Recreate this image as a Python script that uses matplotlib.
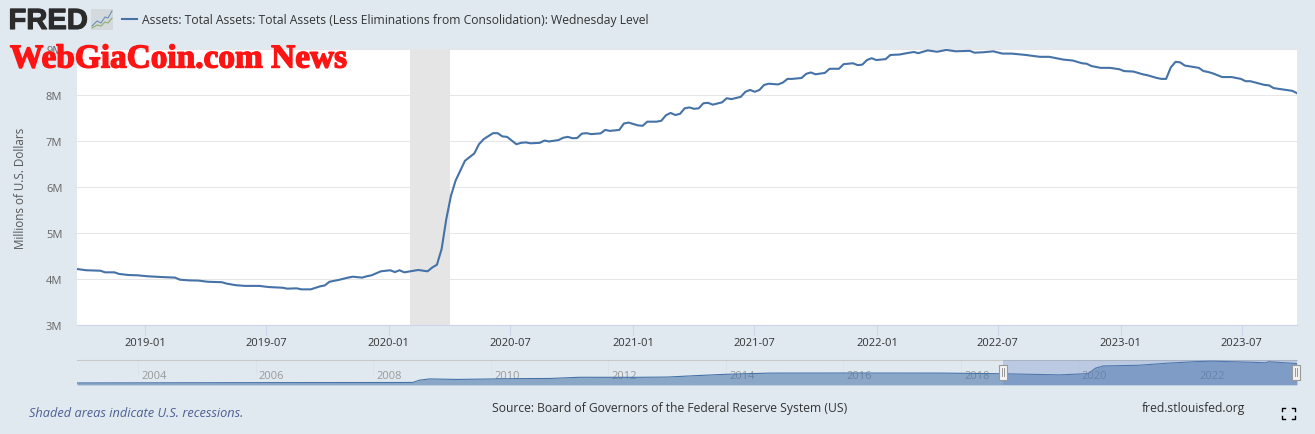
import matplotlib
matplotlib.use("Agg")
import matplotlib.pyplot as plt
import matplotlib.patheffects as pe
import pandas as pd
from matplotlib.patches import Rectangle

W, H = 1315, 435
BG = "#e1e9f0"
BLUE = "#4572a7"
FONT = "Open Sans"

# weekly readings, counted in weeks from the first one
start = pd.Timestamp("2018-09-21")
week_no = [0, 2, 5, 6, 8, 9, 11, 13, 15, 18, 21, 22, 24, 26, 28, 31, 32, 34, 36, 39,
           41, 44, 45, 47, 48, 50, 52, 53, 54, 56, 58, 59, 61, 62, 63, 65, 67, 68, 69, 70,
           73, 75, 76, 77, 78, 79, 80, 81, 83, 85, 86, 87, 89, 90, 91, 92, 94, 95, 96, 97,
           99, 100, 101, 103, 104, 105, 106, 107, 108, 109, 110, 112, 113, 114, 116, 117, 118, 120, 121, 122,
           124, 125, 126, 127, 128, 129, 130, 131, 132, 133, 134, 135, 136, 138, 139, 140, 142, 143, 144, 145,
           146, 147, 148, 150, 151, 152, 153, 155, 156, 157, 158, 160, 161, 163, 164, 166, 167, 168, 169, 170,
           171, 173, 174, 176, 177, 179, 180, 182, 184, 186, 188, 191, 192, 194, 196, 198, 200, 203, 206, 208,
           211, 213, 215, 216, 217, 219, 221, 223, 224, 226, 228, 229, 230, 231, 232, 233, 234, 235, 236, 237,
           240, 241, 242, 243, 244, 245, 247, 249, 250, 251, 254, 255, 256, 258, 260, 261]
assets = [4.217, 4.19, 4.18, 4.145, 4.145, 4.11, 4.087, 4.08, 4.06, 4.043, 4.03, 3.985, 3.97, 3.965, 3.94, 3.93, 3.90, 3.865, 3.85, 3.85,
          3.825, 3.81, 3.79, 3.797, 3.775, 3.775, 3.84, 3.86, 3.94, 3.98, 4.03, 4.05, 4.03, 4.06, 4.08, 4.167, 4.19, 4.15, 4.19, 4.145,
          4.196, 4.167, 4.25, 4.31, 4.65, 5.30, 5.81, 6.14, 6.57, 6.73, 6.93, 7.04, 7.17, 7.17, 7.10, 7.09, 6.93, 6.96, 6.97, 6.95,
          6.96, 7.01, 6.99, 7.02, 7.07, 7.09, 7.06, 7.065, 7.16, 7.17, 7.15, 7.165, 7.24, 7.22, 7.24, 7.38, 7.40, 7.34, 7.33, 7.42,
          7.42, 7.44, 7.56, 7.61, 7.565, 7.59, 7.71, 7.73, 7.70, 7.71, 7.82, 7.83, 7.79, 7.84, 7.93, 7.91, 7.96, 8.07, 8.11, 8.07,
          8.11, 8.22, 8.245, 8.23, 8.27, 8.35, 8.35, 8.37, 8.46, 8.49, 8.45, 8.48, 8.57, 8.57, 8.67, 8.69, 8.65, 8.66, 8.76, 8.80,
          8.76, 8.78, 8.87, 8.88, 8.90, 8.935, 8.91, 8.97, 8.94, 8.98, 8.95, 8.96, 8.92, 8.93, 8.95, 8.90, 8.90, 8.87, 8.83, 8.83,
          8.77, 8.75, 8.69, 8.68, 8.63, 8.59, 8.59, 8.56, 8.52, 8.51, 8.45, 8.43, 8.40, 8.37, 8.35, 8.35, 8.60, 8.72, 8.71, 8.64,
          8.59, 8.52, 8.50, 8.47, 8.43, 8.39, 8.39, 8.35, 8.30, 8.30, 8.22, 8.21, 8.15, 8.12, 8.09, 8.04]
x_ticks = ["2019-01", "2019-07", "2020-01", "2020-07", "2021-01", "2021-07", "2022-01", "2022-07", "2023-01", "2023-07"]
y_ticks = [3, 4, 5, 6, 7, 8, 9]
recession = ("2020-02-01", "2020-04-01")

# long history shown in the navigator strip
nav_dates = ["2002-12-18", "2004-01-07", "2006-01-04", "2008-01-02", "2008-09-03", "2008-10-15", "2008-12-17",
             "2009-06-03", "2010-01-06", "2010-06-02", "2011-01-05", "2011-07-06", "2012-06-06", "2013-01-02",
             "2013-07-03", "2014-01-01", "2014-10-01", "2016-01-06", "2017-09-06", "2018-09-19", "2019-09-04",
             "2020-02-05", "2020-03-04", "2020-04-15", "2020-06-03", "2021-01-06", "2021-07-07", "2022-01-05",
             "2022-04-13", "2022-12-07", "2023-03-08", "2023-03-29", "2023-09-20"]
nav_values = [0.72, 0.76, 0.84, 0.89, 0.91, 1.77, 2.25, 2.05, 2.23, 2.35, 2.42, 2.87, 2.85, 2.95,
              3.5, 4.0, 4.45, 4.48, 4.45, 4.2, 3.78, 4.18, 4.25, 6.3, 7.15, 7.4, 8.2, 8.8,
              8.96, 8.55, 8.35, 8.74, 8.05]
nav_years = [2004, 2006, 2008, 2010, 2012, 2014, 2016, 2018, 2020, 2022]

dates = [start + pd.Timedelta(weeks=w) for w in week_no]
end = start + pd.Timedelta(weeks=261)


def px_axes(fig, x0, y0, x1, y1):
    return fig.add_axes([x0 / W, 1 - y1 / H, (x1 - x0) / W, (y1 - y0) / H])


def px_text(fig, x, y, s, **kw):
    kw.setdefault("family", FONT)
    kw.setdefault("va", "center")
    return fig.text(x / W, 1 - y / H, s, **kw)


fig = plt.figure(figsize=(W / 100, H / 100), dpi=100, facecolor=BG)

# main chart
ax = px_axes(fig, 77, 50, 1297, 326)
ax.plot(dates, assets, color=BLUE, lw=1.5, zorder=3)
ax.axvspan(pd.Timestamp(recession[0]), pd.Timestamp(recession[1]), color="#e5e5e5", lw=0, zorder=2)
ax.set_xlim(start, end)
ax.set_ylim(3, 9)
ax.set_yticks(y_ticks, [f"{v}M" for v in y_ticks])
ax.set_xticks([pd.Timestamp(t + "-01") for t in x_ticks], x_ticks)
ax.grid(axis="y", color="#e6e6e6", lw=0.75, zorder=1)
ax.set_axisbelow(True)
ax.tick_params(axis="y", length=0, pad=10.5, labelsize=8, labelcolor="#666666")
ax.tick_params(axis="x", length=7, width=0.8, color="#ccd6eb", pad=1.5, labelsize=8, labelcolor="#333333")
for lab in ax.get_xticklabels() + ax.get_yticklabels():
    lab.set_family(FONT)
for name, sp in ax.spines.items():
    sp.set_visible(name == "bottom")
ax.spines["bottom"].set_color("#ccd6eb")
px_text(fig, 21, 188, "Millions of U.S. Dollars", rotation=90, ha="center", fontsize=8.4, color="#555555")

# navigator
nav = px_axes(fig, 77, 361, 1297, 386)
nav_x = pd.to_datetime(nav_dates)
nav.fill_between(nav_x, nav_values, color=BLUE, alpha=0.55, lw=0, zorder=3)
nav.plot(nav_x, nav_values, color=BLUE, lw=0.8, zorder=4)
nav.set_xlim(nav_x[0], nav_x[-1])
nav.set_ylim(-0.05, 9.4)
nav.set_facecolor(BG)
nav.set_xticks([])
nav.set_yticks([])
for sp in nav.spines.values():
    sp.set_visible(False)
nav.spines["top"].set_visible(True)
nav.spines["top"].set_color("#c8c8c8")
for yr in nav_years:
    t = pd.Timestamp(f"{yr}-01-01")
    nav.axvline(t, ymin=0.4, color="#dbe3ea", lw=0.6, zorder=1)
    nav.annotate(str(yr), xy=(t, 0), xycoords=("data", "axes fraction"), xytext=(11.5, 6.5),
                 textcoords="offset points", ha="center", va="center",
                 family=FONT, fontsize=8, color="#999999", zorder=2)
sel0 = pd.Timestamp("2018-09-19")
nav.axvspan(sel0, nav_x[-1], color="#6685c2", alpha=0.3, lw=0, zorder=5)
for hx in (1002.5, 1296):
    fig.add_artist(Rectangle(((hx - 4) / W, 1 - 381 / H), 8 / W, 15 / H, transform=fig.transFigure,
                             fc="#f2f2f2", ec="#999999", lw=0.8, zorder=6))
    for dx in (-1, 1):
        fig.add_artist(plt.Line2D([(hx + dx) / W] * 2, [1 - 377 / H, 1 - 369 / H], color="#999999", lw=0.7, zorder=7))

# header
px_text(fig, 8.5, 22, "FRED", family="Liberation Sans", fontweight="bold", fontsize=21, color="#2b2b2b",
        path_effects=[pe.withStroke(linewidth=0.8, foreground="#2b2b2b")])
fig.add_artist(Rectangle((91 / W, 1 - 31 / H), 22 / W, 21 / H, transform=fig.transFigure, fc="#d3d9dc", ec="none"))
icon_x = [92, 97, 101, 105, 108, 112]
icon_blue = [27, 22, 24, 18, 19, 12]
icon_green = [29, 26, 27, 23, 24, 19]
fig.add_artist(plt.Line2D([v / W for v in icon_x], [1 - v / H for v in icon_blue], color="#6d8fb5", lw=0.8))
fig.add_artist(plt.Line2D([v / W for v in icon_x], [1 - v / H for v in icon_green], color="#8fae6a", lw=0.8))
fig.add_artist(plt.Line2D([122 / W, 137 / W], [1 - 20 / H] * 2, color=BLUE, lw=1.5))
px_text(fig, 142, 20.5, "Assets: Total Assets: Total Assets (Less Eliminations from Consolidation): Wednesday Level",
        fontsize=8.72, color="#333333")

# watermark
px_text(fig, 10, 60, "WebGiaCoin.com News", family="Liberation Serif", fontweight="bold",
        fontsize=24, color="#ff1414", zorder=10,
        path_effects=[pe.withStroke(linewidth=1.0, foreground="#ff1414")])

# footer
px_text(fig, 29, 414, "Shaded areas indicate U.S. recessions.", style="italic", fontsize=9.2, color="#4d5f91")
px_text(fig, 492, 409, "Source: Board of Governors of the Federal Reserve System (US)", fontsize=8.7, color="#333333")
px_text(fig, 1142, 409, "fred.stlouisfed.org", fontsize=8.72, color="#333333")
for cx, cy, sx, sy in [(1282, 409, 1, 1), (1295, 409, -1, 1), (1282, 420, 1, -1), (1295, 420, -1, -1)]:
    fig.add_artist(plt.Line2D([(cx + 3 * sx) / W, cx / W, cx / W],
                              [1 - cy / H, 1 - cy / H, 1 - (cy + 3 * sy) / H], color="black", lw=1.0))

fig.savefig("out.png", dpi=100, facecolor=fig.get_facecolor())
